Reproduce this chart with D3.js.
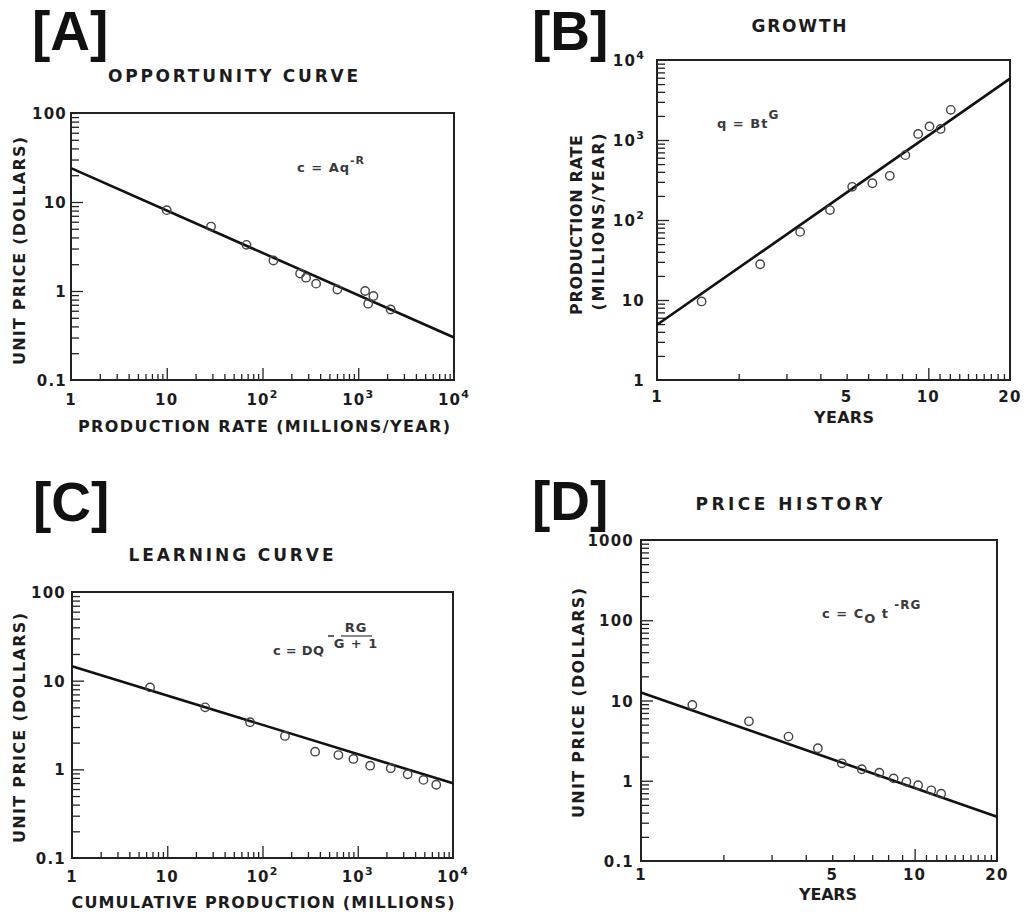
<!DOCTYPE html>
<html>
<head>
<meta charset="utf-8">
<script src="https://cdn.jsdelivr.net/npm/d3@7"></script>
<style>
  body { margin: 0; background: #fff; }
  text { font-family: "DejaVu Sans", sans-serif; font-weight: bold; fill: #1c1c1c; }
  .panel-tag { font-family: "Liberation Sans", Arial, sans-serif; font-size: 55px; fill: #111; }
  .tick-label { font-size: 15px; letter-spacing: 1.2px; }
  .formula { font-size: 13px; letter-spacing: 1px; fill: #3a3a3a; }
</style>
</head>
<body>
<svg id="chart" width="1024" height="913"></svg>
<script>
// [A] opportunity curve: unit price vs production rate
const rateA = [10, 29, 68, 130, 247, 285, 363, 605, 1180, 1440, 1270, 2180];
const priceA = [8.1, 5.3, 3.3, 2.2, 1.57, 1.41, 1.21, 1.04, 1.0, 0.88, 0.72, 0.62];
const fitRateA = [1, 10000];
const fitPriceA = [24, 0.3];

// [B] growth: production rate vs years
const yearsB = [1.46, 2.4, 3.37, 4.34, 5.24, 6.22, 7.21, 8.23, 9.17, 10.1, 11.1, 12.1];
const rateB = [9.6, 28, 71, 133, 260, 288, 357, 647, 1190, 1480, 1375, 2380];
const fitYearsB = [1, 20];
const fitRateB = [4.9, 5860];

// [C] learning curve: unit price vs cumulative production
const cumC = [6.6, 25, 74, 172, 357, 626, 900, 1350, 2220, 3340, 4900, 6670];
const priceC = [8.4, 5.0, 3.4, 2.38, 1.58, 1.45, 1.31, 1.1, 1.03, 0.88, 0.76, 0.67];
const fitCumC = [1, 10000];
const fitPriceC = [14.5, 0.695];

// [D] price history: unit price vs years
const yearsD = [1.54, 2.48, 3.46, 4.43, 5.42, 6.41, 7.43, 8.38, 9.33, 10.3, 11.5, 12.5];
const priceD = [8.8, 5.5, 3.55, 2.54, 1.65, 1.39, 1.26, 1.07, 0.97, 0.88, 0.76, 0.69];
const fitYearsD = [1, 20];
const fitPriceD = [12.6, 0.355];

// tick values and labels
const decadeTicks4 = [1, 10, 100, 1000, 10000];
const decadeLabels4 = ["1", "10", "10^2", "10^3", "10^4"];
const priceTicks = [0.1, 1, 10, 100];
const priceLabels = ["0.1", "1", "10", "100"];
const priceTicksD = [0.1, 1, 10, 100, 1000];
const priceLabelsD = ["0.1", "1", "10", "100", "1000"];
const yearTicks = [1, 5, 10, 20];
const yearLabels = ["1", "5", "10", "20"];
const yearMinor = d3.range(2, 20).filter((v) => v !== 10);

const svg = d3.select("#chart");

// writes "10^3" as 10 with a raised 3
const setLabel = (t, s) => {
  const [base, exp] = s.split("^");
  t.text(base);
  if (exp) t.append("tspan").attr("dy", -7).attr("font-size", "11px").text(exp);
};

const panels = [
  {
    tag: "[A]", tagX: 32, tagY: 50,
    title: "OPPORTUNITY CURVE", titleX: 233, titleY: 82, titleLen: 250,
    left: 71, top: 113, right: 454, bottom: 380,
    xDomain: [1, 10000], yDomain: [0.1, 100],
    xs: rateA, ys: priceA, fitX: fitRateA, fitY: fitPriceA,
    xTicks: decadeTicks4, xLabels: decadeLabels4, xMinor: null, xBig: [10, 100, 1000],
    yTicks: priceTicks, yLabels: priceLabels,
    xLabelY: 405, yGap: 4,
    xTitle: "PRODUCTION RATE (MILLIONS/YEAR)", xTitleX: 264, xTitleY: 432, xTitleLen: 372,
    yTitles: [{ text: "UNIT PRICE (DOLLARS)", x: 25, y: 251, len: 228 }],
  },
  {
    tag: "[B]", tagX: 532, tagY: 50,
    title: "GROWTH", titleX: 799, titleY: 32, titleLen: 95,
    left: 657, top: 60, right: 1010, bottom: 380,
    xDomain: [1, 20], yDomain: [1, 10000],
    xs: yearsB, ys: rateB, fitX: fitYearsB, fitY: fitRateB,
    xTicks: yearTicks, xLabels: yearLabels, xMinor: yearMinor, xBig: [10],
    yTicks: decadeTicks4, yLabels: decadeLabels4,
    xLabelY: 402, yGap: 12,
    xTitle: "YEARS", xTitleX: 844, xTitleY: 423, xTitleLen: 60,
    yTitles: [
      { text: "PRODUCTION RATE", x: 582, y: 225, len: 180 },
      { text: "(MILLIONS/YEAR)", x: 604, y: 222, len: 177 },
    ],
  },
  {
    tag: "[C]", tagX: 33, tagY: 521,
    title: "LEARNING CURVE", titleX: 231, titleY: 561, titleLen: 205,
    left: 72, top: 592, right: 453, bottom: 858,
    xDomain: [1, 10000], yDomain: [0.1, 100],
    xs: cumC, ys: priceC, fitX: fitCumC, fitY: fitPriceC,
    xTicks: decadeTicks4, xLabels: decadeLabels4, xMinor: null, xBig: [10, 100, 1000],
    yTicks: priceTicks, yLabels: priceLabels,
    xLabelY: 882, yGap: 6,
    xTitle: "CUMULATIVE PRODUCTION (MILLIONS)", xTitleX: 263, xTitleY: 908, xTitleLen: 383,
    yTitles: [{ text: "UNIT PRICE (DOLLARS)", x: 25, y: 728, len: 230 }],
  },
  {
    tag: "[D]", tagX: 532, tagY: 520,
    title: "PRICE HISTORY", titleX: 789, titleY: 510, titleLen: 187,
    left: 641, top: 540, right: 997, bottom: 861,
    xDomain: [1, 20], yDomain: [0.1, 1000],
    xs: yearsD, ys: priceD, fitX: fitYearsD, fitY: fitPriceD,
    xTicks: yearTicks, xLabels: yearLabels, xMinor: yearMinor, xBig: [10],
    yTicks: priceTicksD, yLabels: priceLabelsD,
    xLabelY: 880, yGap: 7,
    xTitle: "YEARS", xTitleX: 828, xTitleY: 900, xTitleLen: 58,
    yTitles: [{ text: "UNIT PRICE (DOLLARS)", x: 584, y: 703, len: 230 }],
  },
];

panels.forEach((p) => {
  const g = svg.append("g");
  const x = d3.scaleLog().domain(p.xDomain).range([p.left, p.right]);
  const y = d3.scaleLog().domain(p.yDomain).range([p.bottom, p.top]);

  // minor ticks pointing into the frame
  const xMinor = p.xMinor || x.ticks().filter((v) => !p.xTicks.includes(v));
  const yMinor = y.ticks().filter((v) => !p.yTicks.includes(v));
  const xSmall = xMinor.filter((v) => !p.xBig.includes(v));

  const tickStyle = (sel) => {
    sel.select(".domain").remove();
    sel.selectAll("line").attr("stroke", "#222").attr("stroke-width", 1.3);
  };

  g.append("g")
    .attr("transform", `translate(0,${p.bottom})`)
    .call(d3.axisBottom(x).tickValues(xSmall).tickSize(-6).tickFormat(""))
    .call(tickStyle);
  g.append("g")
    .attr("transform", `translate(0,${p.bottom})`)
    .call(d3.axisBottom(x).tickValues(p.xBig).tickSize(-12).tickFormat(""))
    .call(tickStyle);
  g.append("g")
    .attr("transform", `translate(${p.left},0)`)
    .call(d3.axisLeft(y).tickValues(yMinor).tickSize(-8).tickFormat(""))
    .call(tickStyle);
  g.append("g")
    .attr("transform", `translate(${p.left},0)`)
    .call(d3.axisLeft(y).tickValues(p.yTicks.slice(1, -1)).tickSize(-12).tickFormat(""))
    .call(tickStyle);

  // frame
  g.append("rect")
    .attr("x", p.left)
    .attr("y", p.top)
    .attr("width", p.right - p.left)
    .attr("height", p.bottom - p.top)
    .attr("fill", "none")
    .attr("stroke", "#222")
    .attr("stroke-width", 2);

  // tick labels
  p.xTicks.forEach((v, i) => {
    const t = g.append("text")
      .attr("class", "tick-label")
      .attr("x", x(v))
      .attr("y", p.xLabelY)
      .attr("text-anchor", "middle");
    setLabel(t, p.xLabels[i]);
  });
  p.yTicks.forEach((v, i) => {
    const t = g.append("text")
      .attr("class", "tick-label")
      .attr("x", p.left - p.yGap)
      .attr("y", y(v) + 6)
      .attr("text-anchor", "end");
    setLabel(t, p.yLabels[i]);
  });

  // fitted power law
  g.append("line")
    .attr("x1", x(p.fitX[0]))
    .attr("y1", y(p.fitY[0]))
    .attr("x2", x(p.fitX[1]))
    .attr("y2", y(p.fitY[1]))
    .attr("stroke", "#111")
    .attr("stroke-width", 2.6);

  // observations
  g.selectAll(".pt")
    .data(p.xs.map((d, i) => [d, p.ys[i]]))
    .enter()
    .append("circle")
    .attr("class", "pt")
    .attr("cx", (d) => x(d[0]))
    .attr("cy", (d) => y(d[1]))
    .attr("r", 4.2)
    .attr("fill", "none")
    .attr("stroke", "#444")
    .attr("stroke-width", 1.4);

  // titles
  g.append("text").attr("class", "panel-tag").attr("x", p.tagX).attr("y", p.tagY).text(p.tag);
  g.append("text")
    .attr("x", p.titleX)
    .attr("y", p.titleY)
    .attr("text-anchor", "middle")
    .attr("font-size", 17)
    .attr("textLength", p.titleLen)
    .attr("lengthAdjust", "spacing")
    .text(p.title);
  g.append("text")
    .attr("x", p.xTitleX)
    .attr("y", p.xTitleY)
    .attr("text-anchor", "middle")
    .attr("font-size", 16)
    .attr("textLength", p.xTitleLen)
    .attr("lengthAdjust", "spacing")
    .text(p.xTitle);
  p.yTitles.forEach((yt) => {
    g.append("text")
      .attr("transform", `translate(${yt.x},${yt.y}) rotate(-90)`)
      .attr("text-anchor", "middle")
      .attr("font-size", 16)
      .attr("textLength", yt.len)
      .attr("lengthAdjust", "spacing")
      .text(yt.text);
  });
});

// formulas
const fA = svg.append("text").attr("class", "formula").attr("x", 297).attr("y", 172).text("c = Aq");
fA.append("tspan").attr("dy", -8).attr("font-size", "11px").text("-R");

const fB = svg.append("text").attr("class", "formula").attr("x", 717).attr("y", 128).text("q = Bt");
fB.append("tspan").attr("dy", -9).attr("font-size", "12px").text("G");

svg.append("text").attr("class", "formula").attr("x", 273).attr("y", 655)
  .style("letter-spacing", "0.3px").text("c = DQ");
svg.append("line").attr("x1", 328).attr("x2", 334).attr("y1", 636).attr("y2", 636)
  .attr("stroke", "#3a3a3a").attr("stroke-width", 1.6);
svg.append("text").attr("class", "formula").attr("x", 356).attr("y", 632)
  .attr("text-anchor", "middle").attr("font-size", 9).text("RG");
svg.append("line").attr("x1", 341).attr("x2", 372).attr("y1", 636).attr("y2", 636)
  .attr("stroke", "#3a3a3a").attr("stroke-width", 1.2);
svg.append("text").attr("class", "formula").attr("x", 356).attr("y", 648)
  .attr("text-anchor", "middle").attr("font-size", 9).text("G + 1");

const fD = svg.append("text").attr("class", "formula").attr("x", 822).attr("y", 618).text("c = C");
fD.append("tspan").attr("dy", 5).text("O");
fD.append("tspan").attr("dy", -5).text(" t");
fD.append("tspan").attr("dy", -9).attr("font-size", "12px").text(" -RG");
</script>
</body>
</html>
